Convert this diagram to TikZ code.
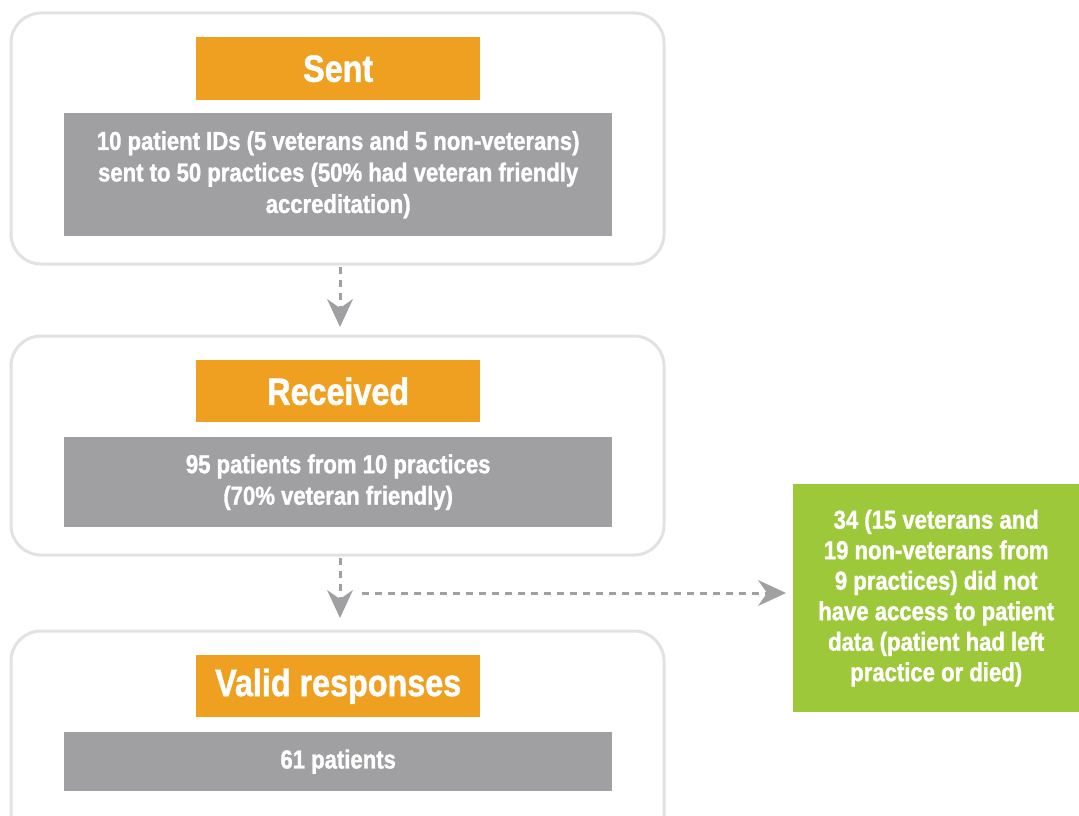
\documentclass[tikz,border=0pt]{standalone}
\usepackage{fontspec}
\setmainfont[FakeStretch=0.85, BoldFeatures={FakeBold=1.3}]{Liberation Sans}
\usetikzlibrary{arrows.meta}
\definecolor{frame}{HTML}{E2E2E2}
\definecolor{orng}{HTML}{F0A020}
\definecolor{gbox}{HTML}{A0A0A3}
\definecolor{grn}{HTML}{9DC83A}
\definecolor{arr}{HTML}{A0A0A3}
\tikzset{
  outer/.style={draw=frame, line width=3pt, rounded corners=30pt, fill=white},
  title/.style={fill=orng, text=white, font=\bfseries\fontsize{38}{40}\selectfont, inner sep=0pt, anchor=north west},
  body/.style={fill=gbox, text=white, font=\bfseries\fontsize{26}{31.5}\selectfont, inner sep=0pt, align=center, anchor=north west},
  note/.style={fill=grn, text=white, font=\bfseries\fontsize{26}{30.5}\selectfont, inner sep=0pt, align=center, anchor=north west},
  flow/.style={draw=arr, line width=3pt, dash pattern=on 7pt off 6pt, -{Stealth[length=28pt,width=26pt,inset=9pt,line width=0pt]}}
}
\begin{document}
\begin{tikzpicture}[x=1pt,y=-1pt]
\useasboundingbox (0,0) rectangle (1079,816);
\clip (0,0) rectangle (1079,816);
% outer frames
\draw[outer] (11,13) rectangle (664,264);
\draw[outer] (11,336) rectangle (664,555);
\draw[outer] (11,631) rectangle (664,860);
% Sent
\node[title, minimum width=284pt, minimum height=63pt] (sent) at (196,37) {Sent};
\node[body, minimum width=548pt, minimum height=123pt] (sentb) at (64,113) {10 patient IDs (5 veterans and 5 non-veterans)\\sent to 50 practices (50\% had veteran friendly\\accreditation)};
% Received
\node[title, minimum width=284pt, minimum height=62pt] (recv) at (196,360) {Received};
\node[body, minimum width=548pt, minimum height=90pt] (recvb) at (64,437) {95 patients from 10 practices\\(70\% veteran friendly)};
% Valid
\node[title, minimum width=284pt, minimum height=62pt] (valid) at (196,655) {Valid responses};
\node[body, minimum width=548pt, minimum height=59pt] (validb) at (64,732) {61 patients};
% Green note
\node[note, minimum width=286pt, minimum height=228pt] (excl) at (793,484) {34 (15 veterans and\\19 non-veterans from\\9 practices) did not\\have access to patient\\data (patient had left\\practice or died)};
% connectors
\coordinate (a1s) at (340,267);
\coordinate (a1e) at (340,327);
\coordinate (a2s) at (340,558);
\coordinate (a2e) at (340,618);
\coordinate (hs) at (362,593);
\coordinate (he) at (786,593);
\draw[flow] (a1s) -- (a1e);
\draw[flow] (a2s) -- (a2e);
\draw[flow] (hs) -- (he);
\end{tikzpicture}
\end{document}
